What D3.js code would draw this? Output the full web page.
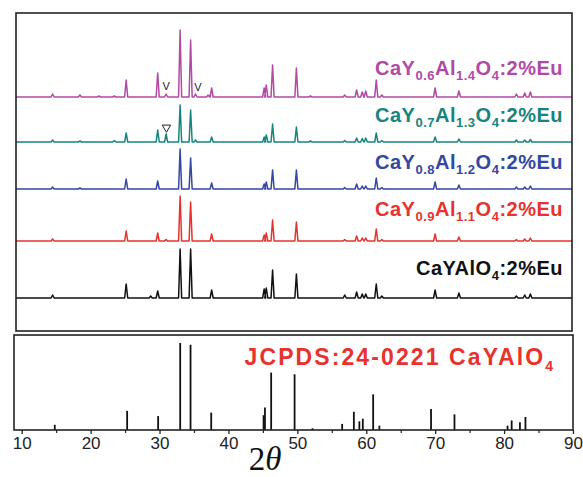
<!doctype html>
<html lang="en">
<head>
<meta charset="UTF-8" />
<title>XRD patterns CaY1-xAl1+xO4:2%Eu</title>
<script src="https://d3js.org/d3.v7.min.js"></script>
<style>
  body { margin: 0; background: #fff; }
  text { font-family: "Liberation Sans", Arial, sans-serif; }
</style>
</head>
<body>
<svg id="chart" width="583" height="477"></svg>
<script>
// XRD peaks: [2theta, intensity (a.u.)]
const sampleCaYAlO4 = [
  [14.8, 3], [25.3, 14], [28.8, 2], [29.8, 7], [33.0, 49], [34.5, 49], [37.5, 8],
  [45.0, 9], [45.3, 10], [46.2, 28], [49.6, 24], [56.5, 3], [58.2, 6], [59.0, 4],
  [59.5, 4], [61.0, 14], [61.8, 2], [69.4, 8], [72.8, 5], [81.0, 2], [82.2, 3], [83.0, 4]
];
const sampleY09 = [
  [14.8, 2], [25.3, 10], [29.8, 8], [31.0, 1.5], [33.0, 45], [34.5, 39], [37.5, 7],
  [45.0, 6], [45.3, 8], [46.2, 21], [49.6, 19], [56.5, 1.5], [58.2, 5], [59.0, 3],
  [59.5, 3], [61.0, 12], [61.8, 1.5], [69.4, 7], [72.8, 4], [81.0, 1.5], [82.2, 2], [83.0, 3]
];
const sampleY08 = [
  [14.8, 2], [18.7, 1], [25.3, 10], [29.8, 8], [33.0, 40], [34.5, 31], [37.5, 6],
  [45.0, 5], [45.3, 7], [46.2, 19], [49.6, 19], [56.5, 1.5], [58.2, 5], [59.0, 3],
  [59.5, 3], [61.0, 11], [61.8, 1.5], [69.4, 7], [72.8, 4], [81.0, 2], [82.2, 2], [83.0, 3]
];
const sampleY07 = [
  [14.8, 2], [18.7, 1], [23.6, 1.5], [25.3, 9], [29.8, 12], [31.0, 8], [33.0, 37],
  [34.5, 32], [35.2, 2], [37.5, 5], [45.0, 5], [45.3, 7], [46.2, 18], [49.6, 15],
  [51.6, 1], [56.5, 1.5], [58.2, 4], [59.0, 3.5], [59.5, 4], [61.0, 9], [61.8, 1.5],
  [69.4, 5], [72.8, 3], [81.0, 2], [82.2, 2], [83.0, 2.5]
];
const sampleY06 = [
  [14.8, 3], [18.7, 2], [21.4, 1], [23.6, 1], [25.3, 17], [29.8, 24], [31.0, 3],
  [33.0, 67], [34.5, 57], [35.2, 3], [37.0, 2], [37.5, 9], [45.0, 9], [45.3, 12],
  [46.2, 32], [49.6, 29], [51.6, 1], [56.5, 2], [58.2, 7], [59.0, 5], [59.5, 6],
  [61.0, 17], [61.8, 2], [69.4, 9], [72.8, 6], [81.0, 3], [82.2, 4], [83.0, 5]
];
// JCPDS 24-0221 CaYAlO4 reference lines
const refAngles = [14.8, 25.3, 29.8, 33.0, 34.5, 37.5, 45.1, 45.3, 46.2, 49.6, 52.2, 56.5,
  58.2, 59.0, 59.5, 61.0, 61.9, 69.4, 72.8, 80.5, 81.1, 82.3, 83.1];
const refIntensity = [6, 22, 16, 100, 98, 20, 17, 26, 66, 64, 2, 7,
  21, 10, 13, 41, 5, 24, 18, 5, 11, 9, 15];

const xTicks = [10, 20, 30, 40, 50, 60, 70, 80, 90];
const xMinorTicks = [15, 25, 35, 45, 55, 65, 75, 85];

const series = [
  { name: [["CaYAlO", 0], ["4", 1], [":2%Eu", 0]], data: sampleCaYAlO4 },
  { name: [["CaY", 0], ["0.9", 1], ["Al", 0], ["1.1", 1], ["O", 0], ["4", 1], [":2%Eu", 0]], data: sampleY09 },
  { name: [["CaY", 0], ["0.8", 1], ["Al", 0], ["1.2", 1], ["O", 0], ["4", 1], [":2%Eu", 0]], data: sampleY08 },
  { name: [["CaY", 0], ["0.7", 1], ["Al", 0], ["1.3", 1], ["O", 0], ["4", 1], [":2%Eu", 0]], data: sampleY07 },
  { name: [["CaY", 0], ["0.6", 1], ["Al", 0], ["1.4", 1], ["O", 0], ["4", 1], [":2%Eu", 0]], data: sampleY06 }
];
// impurity phase markers: [2theta, height above trace (a.u.)]
const markersV = [[31.0, 241], [35.55, 240]];
const markersTri = [[31.05, 203.5]];

const colors = ["#111111", "#e8322e", "#3347a4", "#17857d", "#b04aa6"];
const offsets = [33, 90, 142, 189, 234];       // vertical stacking (a.u.)
const labelBase = [56, 115, 162, 209, 256];      // label baseline (a.u.)

const svg = d3.select("#chart");

// panel frames
const topP = { x0: 16, x1: 572, y0: 13, y1: 331 };
const botP = { x0: 14, x1: 573, y0: 335, y1: 430 };

const xTop = d3.scaleLinear().domain([10, 90]).range([19, 579.4]);
const yTop = d3.scaleLinear().domain([0, 318]).range([topP.y1, topP.y0]);
const xBot = d3.scaleLinear().domain([10, 90]).range([21.7, 573]);
const yBot = d3.scaleLinear().domain([0, 100]).range([botP.y1, botP.y1 - 87]);

svg.append("clipPath").attr("id", "topclip")
  .append("rect")
  .attr("x", topP.x0).attr("y", topP.y0)
  .attr("width", topP.x1 - topP.x0).attr("height", topP.y1 - topP.y0);

// turn a peak list into a trace on a flat background
function trace(peaks) {
  const hw = 0.22;
  const pts = [[xTop.invert(topP.x0), 0]];
  peaks.forEach(([a, h]) => {
    pts.push([a - hw, 0], [a, h], [a + hw, 0]);
  });
  pts.push([xTop.invert(topP.x1), 0]);
  return pts;
}

const g = svg.append("g").attr("clip-path", "url(#topclip)");
series.forEach((s, i) => {
  const line = d3.line()
    .x(d => xTop(d[0]))
    .y(d => yTop(offsets[i] + d[1]));
  g.append("path")
    .attr("d", line(trace(s.data)))
    .attr("fill", "none")
    .attr("stroke", colors[i])
    .attr("stroke-width", 1.5)
    .attr("stroke-linejoin", "round");
});

// labels
series.forEach((s, i) => {
  const t = svg.append("text")
    .attr("x", 563)
    .attr("y", yTop(labelBase[i]))
    .attr("text-anchor", "end")
    .attr("font-weight", "bold")
    .attr("font-size", 20)
    .attr("letter-spacing", 0.5)
    .attr("fill", colors[i]);
  let sub = false;
  s.name.forEach(([txt, isSub]) => {
    const ts = t.append("tspan").text(txt);
    if (isSub) ts.attr("font-size", 13);
    if (isSub && !sub) { ts.attr("dy", 5); sub = true; }
    else if (!isSub && sub) { ts.attr("dy", -5); sub = false; }
  });
});

// impurity markers
markersV.forEach(([a, v]) => {
  svg.append("text")
    .attr("x", xTop(a)).attr("y", yTop(v))
    .attr("text-anchor", "middle")
    .attr("font-size", 11)
    .attr("fill", "#222")
    .text("V");
});
markersTri.forEach(([a, v]) => {
  svg.append("path")
    .attr("d", d3.symbol(d3.symbolTriangle, 30)())
    .attr("transform", `translate(${xTop(a)},${yTop(v)}) rotate(180)`)
    .attr("fill", "none")
    .attr("stroke", "#222")
    .attr("stroke-width", 1);
});

// reference lines
svg.selectAll(".ref")
  .data(refAngles)
  .join("line")
  .attr("class", "ref")
  .attr("x1", d => xBot(d)).attr("x2", d => xBot(d))
  .attr("y1", yBot(0))
  .attr("y2", (d, i) => yBot(refIntensity[i]))
  .attr("stroke", "#111")
  .attr("stroke-width", 1.8);

const jc = svg.append("text")
  .attr("x", 553)
  .attr("y", 365)
  .attr("text-anchor", "end")
  .attr("font-weight", "bold")
  .attr("font-size", 23)
  .attr("fill", "#e8322e");
jc.append("tspan").attr("letter-spacing", 2.1).text("JCPDS:24-0221 CaYAlO");
jc.append("tspan").attr("dy", 6).attr("font-size", 14).text("4");

// axis
const axis = svg.append("g")
  .attr("transform", `translate(0,${botP.y1})`)
  .call(d3.axisBottom(xBot).tickValues(xTicks).tickSize(4).tickPadding(3).tickFormat(d3.format("d")));
axis.select(".domain").remove();
axis.selectAll("text")
  .attr("font-size", 17)
  .attr("fill", "#222")
  .style("font-family", "'Liberation Sans', Arial, sans-serif");
axis.selectAll("line").attr("stroke", "#222").attr("stroke-width", 1.3);

const minor = svg.append("g")
  .attr("transform", `translate(0,${botP.y1})`)
  .call(d3.axisBottom(xBot).tickValues(xMinorTicks).tickSize(3).tickFormat(""));
minor.select(".domain").remove();
minor.selectAll("line").attr("stroke", "#222").attr("stroke-width", 1.2);

// frames
[topP, botP].forEach(p => {
  svg.append("rect")
    .attr("x", p.x0).attr("y", p.y0)
    .attr("width", p.x1 - p.x0).attr("height", p.y1 - p.y0)
    .attr("fill", "none")
    .attr("stroke", "#222")
    .attr("stroke-width", 1.6);
});

// x title
const title = svg.append("text")
  .attr("x", 265)
  .attr("y", 470)
  .attr("text-anchor", "middle")
  .attr("font-size", 33)
  .attr("fill", "#111")
  .style("font-family", "'Liberation Serif', 'Times New Roman', serif");
title.append("tspan").text("2");
title.append("tspan").attr("font-style", "italic").text("θ");
</script>
</body>
</html>
